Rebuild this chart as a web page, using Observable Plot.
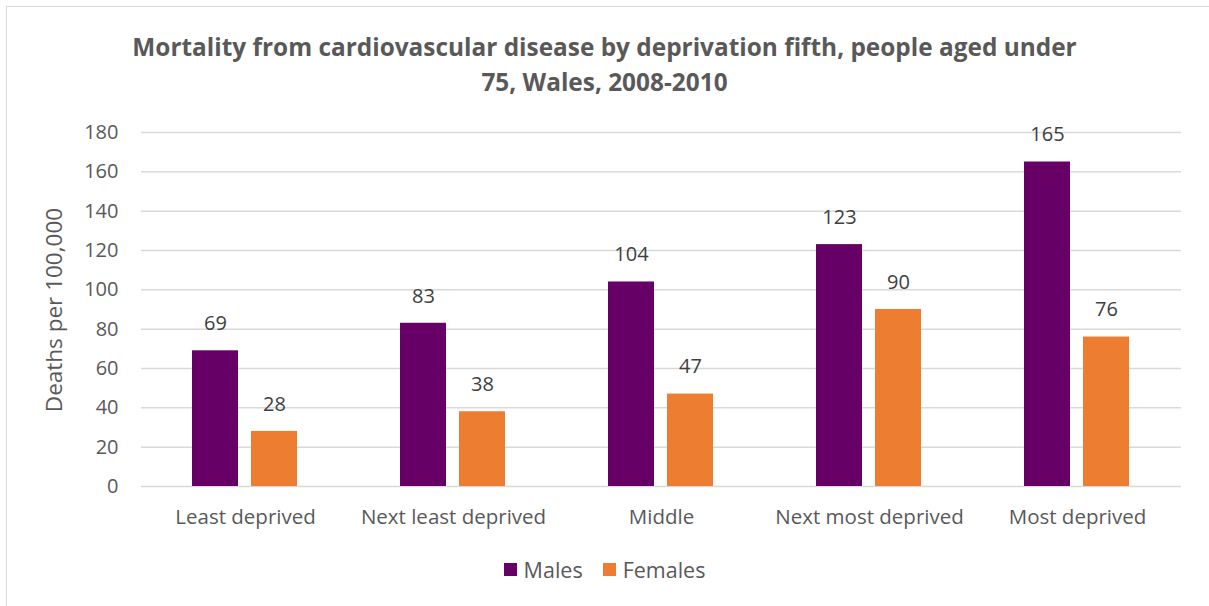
<!DOCTYPE html>
<html>
<head>
<meta charset="utf-8">
<script src="https://cdn.jsdelivr.net/npm/d3@7"></script>
<script src="https://cdn.jsdelivr.net/npm/@observablehq/plot@0.6"></script>
<style>
  html, body { margin: 0; padding: 0; background: #fff; }
  body { width: 1209px; height: 606px; overflow: hidden; position: relative; font-family: "Open Sans", sans-serif; }
  #frame { position: absolute; left: 6px; top: 6px; width: 1300px; height: 700px; border: 1.5px solid #d9d9d9; box-sizing: border-box; }
  #title { position: absolute; left: 0; width: 1209px; top: 29px; text-align: center; font-weight: bold; font-size: 24.4px; line-height: 35px; color: #595959; font-family: "Open Sans", sans-serif; }
  #chart { position: absolute; left: 0; top: 105px; }
  #legend { position: absolute; top: 555px; left: 0; width: 1209px; display: flex; justify-content: center; gap: 20px; font-size: 21.5px; color: #595959; }
  .item { display: flex; align-items: center; gap: 7px; }
  .sw { width: 13px; height: 13px; display: inline-block; }
</style>
</head>
<body>
<div id="frame"></div>
<div id="title">Mortality from cardiovascular disease by deprivation fifth, people aged under<br>75, Wales, 2008-2010</div>
<div id="chart"></div>
<div id="legend"></div>
<script>
const categories = ["Least deprived", "Next least deprived", "Middle", "Next most deprived", "Most deprived"];
const series = ["Males", "Females"];
const males = [69, 83, 104, 123, 165];
const females = [28, 38, 47, 90, 76];
const colors = ["#660066", "#ED7D31"];
const yTicks = [0, 20, 40, 60, 80, 100, 120, 140, 160, 180];

const data = [];
categories.forEach((c, i) => {
  data.push({category: c, sex: "Males", value: males[i]});
  data.push({category: c, sex: "Females", value: females[i]});
});

const chart = Plot.plot({
  width: 1209,
  height: 431,
  marginLeft: 140,
  marginRight: 28,
  marginTop: 27,
  marginBottom: 50,
  style: {fontFamily: "Open Sans, sans-serif", fontSize: "20px", color: "#595959", background: "transparent"},
  fx: {domain: categories, padding: 0, label: null},
  x: {domain: series, paddingInner: 0.22, paddingOuter: 0.872, axis: null},
  y: {domain: [0, 180], ticks: yTicks, label: null},
  color: {domain: series, range: colors},
  marks: [
    Plot.gridY(yTicks, {stroke: "#d9d9d9", strokeOpacity: 1, strokeWidth: 1.5}),
    Plot.axisY({ticks: yTicks, tickSize: 0, tickPadding: 23, fontSize: 20, fill: "#595959", label: null}),
    Plot.axisFx({anchor: "bottom", tickSize: 0, tickPadding: 23, fontSize: 20.5, fill: "#595959", label: null}),
    Plot.barY(data, {fx: "category", x: "sex", y: "value", fill: "sex"}),
    Plot.text(data, {fx: "category", x: "sex", y: "value", text: d => String(d.value), dy: -27, fontSize: 20, fill: "#404040", lineAnchor: "middle"})
  ]
});

// y-axis title
const svg = d3.select(chart);
svg.append("text")
  .attr("transform", "translate(56,205) rotate(-90)")
  .attr("text-anchor", "middle")
  .attr("dominant-baseline", "middle")
  .attr("fill", "#595959")
  .style("font-size", "22.5px")
  .style("font-family", "Open Sans, sans-serif")
  .text("Deaths per 100,000");

document.getElementById("chart").appendChild(chart);

const legend = document.getElementById("legend");
series.forEach((s, i) => {
  const it = document.createElement("div");
  it.className = "item";
  const sw = document.createElement("span");
  sw.className = "sw";
  sw.style.background = colors[i];
  const t = document.createElement("span");
  t.textContent = s;
  it.appendChild(sw);
  it.appendChild(t);
  legend.appendChild(it);
});
</script>
</body>
</html>
